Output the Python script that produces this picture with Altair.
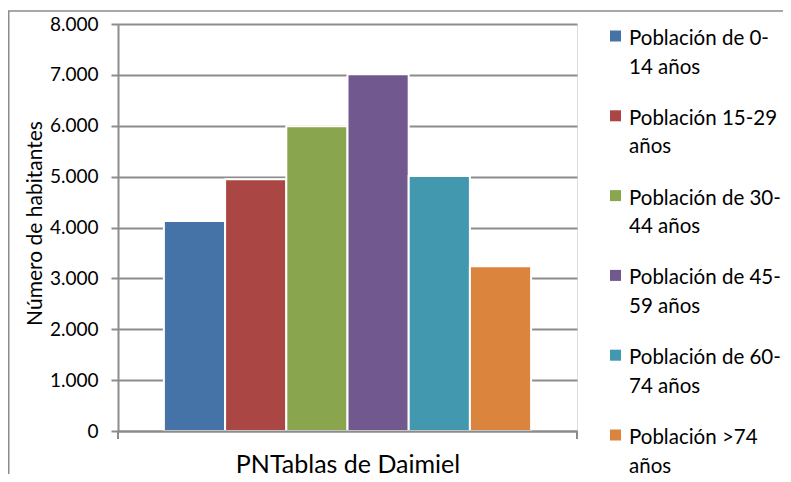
import altair as alt
import pandas as pd

# ---- data ----
category = "PNTablas de Daimiel"
series = ["Población de 0-14 años", "Población 15-29 años", "Población de 30-44 años",
          "Población de 45-59 años", "Población de 60-74 años", "Población >74 años"]
legend_labels = ["Población de 0-\n14 años", "Población 15-29\naños", "Población de 30-\n44 años",
                 "Población de 45-\n59 años", "Población de 60-\n74 años", "Población >74\naños"]
values = [4130, 4950, 5990, 7010, 5010, 3240]
colors = ["#4572A7", "#AA4643", "#89A54E", "#71588F", "#4198AF", "#DB843D"]
y_ticks = [0, 1000, 2000, 3000, 4000, 5000, 6000, 7000, 8000]

W, H = 459, 407
GRID = "#8c8c8c"
FONT = "Lato"

df = pd.DataFrame({"serie": series, "valor": values, "etiqueta": legend_labels})
one = pd.DataFrame({"k": [0]})

color = alt.Color("serie:N", scale=alt.Scale(domain=series, range=colors), legend=None)

bars = alt.Chart(df).mark_bar(stroke="white", strokeWidth=2).encode(
    x=alt.X("serie:N", sort=series,
            scale=alt.Scale(domain=series, paddingInner=0, paddingOuter=0.75),
            axis=alt.Axis(title=category, labels=False, ticks=False, domain=True,
                          domainColor=GRID, domainWidth=2, zindex=1,
                          titleFont=FONT, titleFontSize=25, titleFontWeight="normal",
                          titleColor="black", titlePadding=21)),
    y=alt.Y("valor:Q", scale=alt.Scale(domain=[0, 8000], nice=False),
            axis=alt.Axis(values=y_ticks,
                          labelExpr="replace(format(datum.value, ','), ',', '.')",
                          labelFont=FONT, labelFontSize=19, labelColor="black",
                          labelPadding=13, tickSize=7, tickColor=GRID, tickWidth=2,
                          domainColor=GRID, domainWidth=2,
                          grid=True, gridColor=GRID, gridWidth=2,
                          title="Número de habitantes", titleFont=FONT, titleFontSize=21,
                          titleFontWeight="normal", titleColor="black",
                          titleBaseline="alphabetic", titleX=-77, titleY=199)),
    color=color,
)

end_tick_l = alt.Chart(one).mark_rule(color=GRID, strokeWidth=2).encode(
    x=alt.value(0), y=alt.value(H), y2=alt.value(H + 8))
end_tick_r = alt.Chart(one).mark_rule(color=GRID, strokeWidth=2).encode(
    x=alt.value(W), y=alt.value(H), y2=alt.value(H + 8))

leg_y = alt.Y("serie:N", sort=series,
              scale=alt.Scale(domain=series, type="point", range=[12, 411], padding=0),
              axis=None)
leg_sym = alt.Chart(df).mark_square(size=121, opacity=1).encode(
    x=alt.value(497.5), y=leg_y, color=color)
leg_txt = alt.Chart(df).mark_text(
    align="left", baseline="alphabetic", dy=9, lineBreak="\n", lineHeight=28.5,
    font=FONT, fontSize=20.5, color="black").encode(
    x=alt.value(511), y=leg_y, text="etiqueta:N")

frame = alt.Chart(one).mark_rect(fillOpacity=0, stroke=GRID, strokeWidth=1.5).encode(
    x=alt.value(-109.25), x2=alt.value(W + 230), y=alt.value(-13), y2=alt.value(H + 60))

chart = alt.layer(frame, bars, end_tick_l, end_tick_r, leg_sym, leg_txt).resolve_scale(
    y="independent"
).properties(
    width=W, height=H,
    autosize=alt.AutoSizeParams(type="none"),
    padding={"left": 110, "top": 16, "right": 206, "bottom": 43},
).configure_view(strokeWidth=0).configure(font=FONT)

chart.save("out.html", embed_options={"renderer": "svg", "actions": False})
